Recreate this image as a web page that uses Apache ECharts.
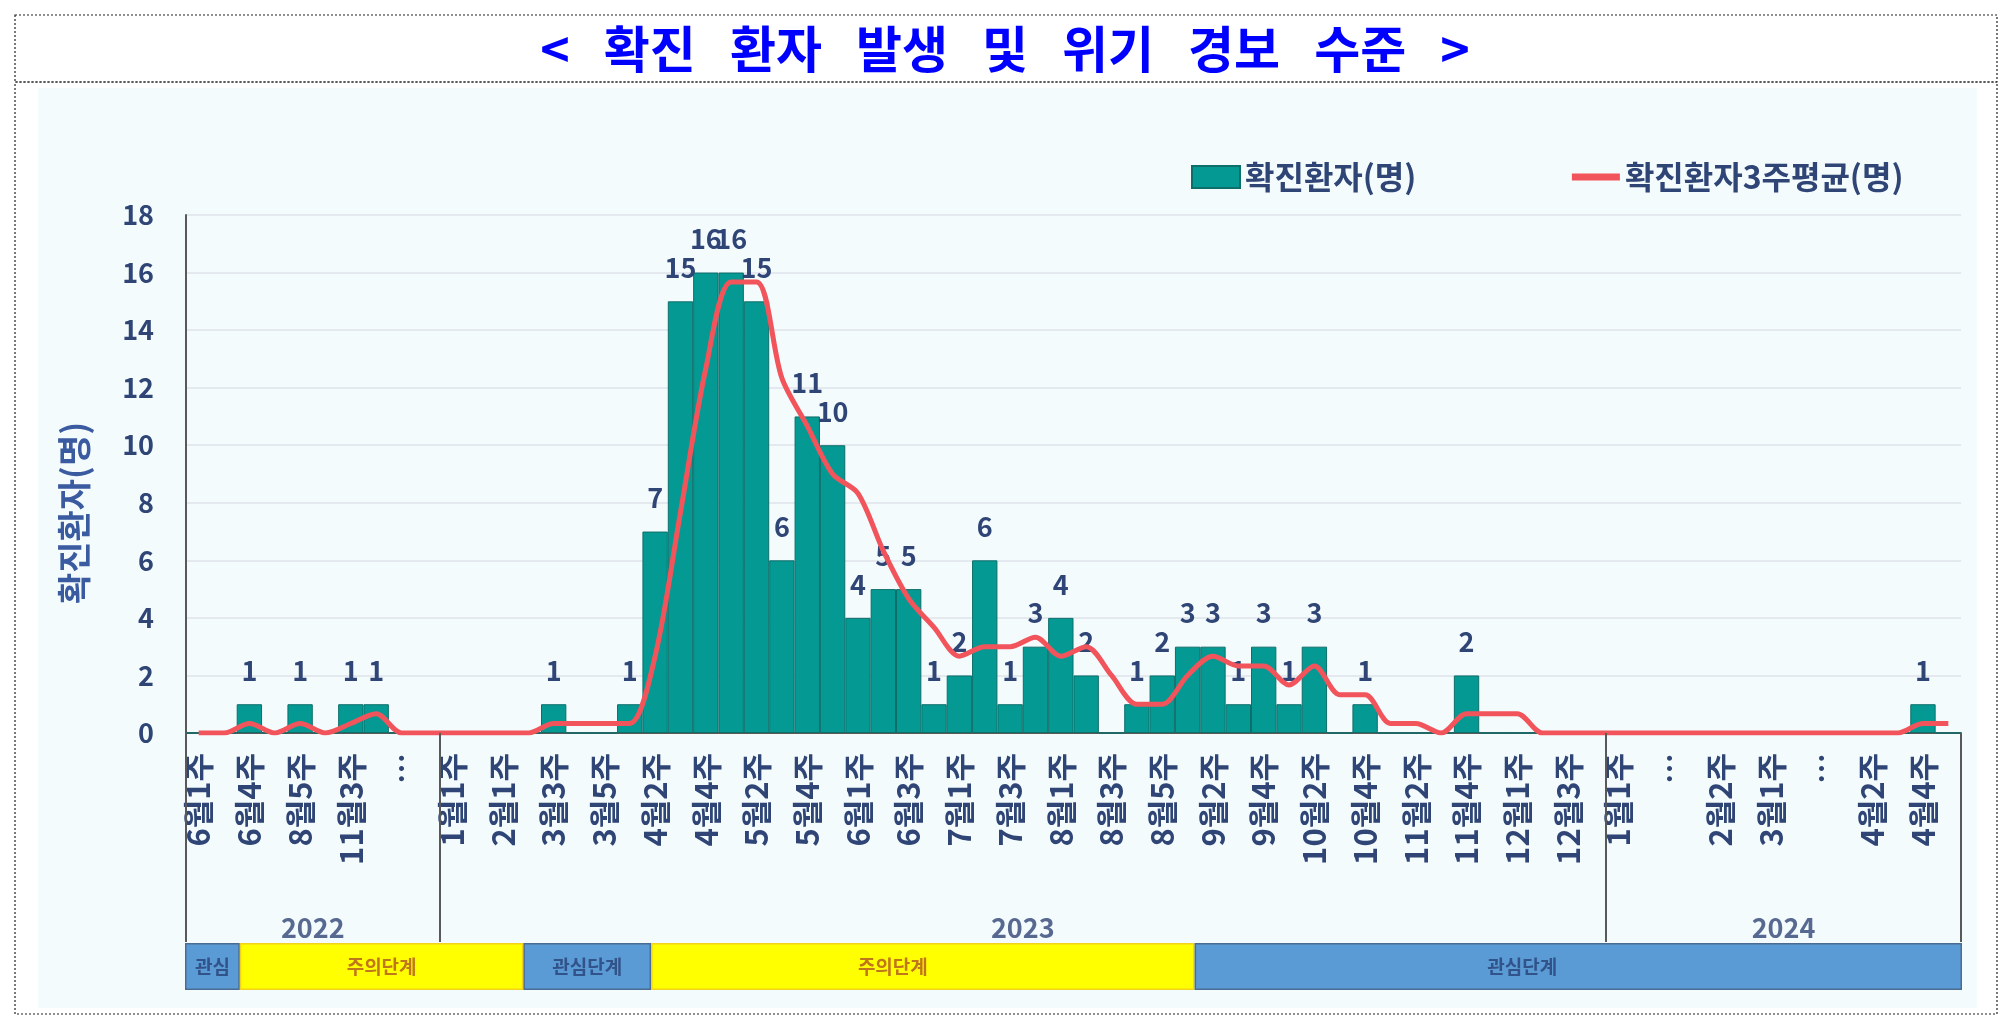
<!DOCTYPE html>
<html>
<head>
<meta charset="utf-8">
<script src="https://cdn.jsdelivr.net/npm/echarts@6/dist/echarts.min.js"></script>
<style>
  html, body { margin: 0; padding: 0; background: #fff; }
  #chart { width: 2012px; height: 1031px; }
</style>
</head>
<body>
<div id="chart"></div>
<script>
// 주차 라벨 (빈 칸은 라벨 없는 주)
var weekLabels = [
  '6월1주', '', '6월4주', '', '8월5주', '', '11월3주', '', '…', '',
  '1월1주', '', '2월1주', '', '3월3주', '', '3월5주', '', '4월2주', '', '4월4주', '',
  '5월2주', '', '5월4주', '', '6월1주', '', '6월3주', '', '7월1주', '', '7월3주', '',
  '8월1주', '', '8월3주', '', '8월5주', '', '9월2주', '', '9월4주', '', '10월2주', '',
  '10월4주', '', '11월2주', '', '11월4주', '', '12월1주', '', '12월3주', '',
  '1월1주', '', '…', '', '2월2주', '', '3월1주', '', '…', '', '4월2주', '', '4월4주', ''
];
// 확진환자(명)
var cases = [
  0, 0, 1, 0, 1, 0, 1, 1, 0, 0,
  0, 0, 0, 0, 1, 0, 0, 1, 7, 15, 16, 16, 15, 6, 11, 10, 4, 5, 5, 1, 2, 6, 1, 3, 4, 2,
  0, 1, 2, 3, 3, 1, 3, 1, 3, 0, 1, 0, 0, 0, 2, 0, 0, 0, 0, 0,
  0, 0, 0, 0, 0, 0, 0, 0, 0, 0, 0, 0, 1, 0
];
// 확진환자3주평균(명)
var avg3 = [
  0, 0, 0.33, 0, 0.33, 0, 0.33, 0.67, 0, 0,
  0, 0, 0, 0, 0.33, 0.33, 0.33, 0.33, 2.67, 7.67, 12.67, 15.67, 15.67, 12.33, 10.67, 9,
  8.33, 6.33, 4.67, 3.67, 2.67, 3, 3, 3.33, 2.67, 3, 2, 1, 1, 2, 2.67, 2.33, 2.33, 1.67,
  2.33, 1.33, 1.33, 0.33, 0.33, 0, 0.67, 0.67, 0.67, 0, 0, 0,
  0, 0, 0, 0, 0, 0, 0, 0, 0, 0, 0, 0, 0.33, 0.33
];
// 연도 구간 (주 인덱스)
var years = ['2022', '2023', '2024'];
var yearStart = [0, 10, 56];
var yearEnd = [10, 56, 70];
// 위기 경보 단계 (주 단위 폭)
var levelNames = ['관심', '주의단계', '관심단계', '주의단계', '관심단계'];
var levelSpans = [2.16, 11.17, 5.03, 21.41, 30.23];
var levelLabelShift = [0, 0, 0, -30, -56];

var FONT = "'Noto Sans CJK KR', 'Noto Sans', sans-serif";
var NAVY = '#2F4576';

var chart = echarts.init(document.getElementById('chart'));

var categories = weekLabels.map(function (l, i) { return 'w' + i; });

var levelSeries = levelNames.map(function (name, i) {
  var caution = name.indexOf('주의') === 0;
  return {
    type: 'bar',
    name: 'lv' + i,
    xAxisIndex: 2,
    yAxisIndex: 2,
    stack: 'level',
    barWidth: '100%',
    silent: true,
    data: [levelSpans[i]],
    itemStyle: {
      color: caution ? '#FFFF00' : '#5B9BD5',
      borderColor: caution ? '#F2D21B' : '#4A6C92',
      borderWidth: 1.5
    },
    label: {
      show: true,
      position: 'inside',
      offset: [levelLabelShift[i], 0],
      formatter: name,
      fontFamily: FONT,
      fontSize: 19,
      fontWeight: 'bold',
      color: caution ? '#C0761A' : '#31538A'
    }
  };
});

chart.setOption({
  backgroundColor: '#ffffff',
  textStyle: { fontFamily: FONT },
  animation: false,
  graphic: [
    { type: 'rect', shape: { x: 38, y: 88, width: 1939, height: 920 }, style: { fill: '#F4FBFD' }, z: -10 },
    { type: 'rect', shape: { x: 15, y: 15, width: 1982, height: 67 },
      style: { fill: 'none', stroke: '#222', lineWidth: 1.2, lineDash: [2, 2] }, z: -5 },
    { type: 'rect', shape: { x: 15, y: 82, width: 1982, height: 932 },
      style: { fill: 'none', stroke: '#222', lineWidth: 1.2, lineDash: [2, 2] }, z: -5 },
    { type: 'text', x: 1005, y: 49,
      style: { text: '<   확진   환자   발생   및   위기   경보   수준   >',
        fill: '#0000FF', font: 'bold 50px ' + FONT, textAlign: 'center', textVerticalAlign: 'middle' } }
  ],
  legend: {
    left: 1186,
    top: 156,
    itemWidth: 48,
    itemHeight: 22,
    itemGap: 152,
    textStyle: { fontSize: 32, fontWeight: 'bold', color: NAVY, fontFamily: FONT },
    data: [
      { name: '확진환자(명)', icon: 'rect' },
      { name: '확진환자3주평균(명)', itemStyle: { opacity: 0 }, lineStyle: { width: 7 } }
    ]
  },
  grid: [
    { left: 186, top: 215, width: 1775, height: 518 },
    { left: 186, top: 733, width: 1775, height: 209 },
    { left: 185, top: 943, width: 1777, height: 47 }
  ],
  xAxis: [
    {
      type: 'category',
      gridIndex: 0,
      data: categories,
      axisTick: { show: false },
      axisLine: { lineStyle: { color: '#595959', width: 2 } },
      axisLabel: {
        interval: 0,
        rotate: 90,
        margin: 20,
        fontSize: 31,
        fontWeight: 'bold',
        color: NAVY,
        formatter: function (v, i) { return weekLabels[i]; }
      }
    },
    { type: 'value', gridIndex: 1, min: 0, max: 70, show: false },
    { type: 'value', gridIndex: 2, min: 0, max: 70, show: false }
  ],
  yAxis: [
    {
      type: 'value',
      gridIndex: 0,
      min: 0,
      max: 18,
      interval: 2,
      name: '확진환자(명)',
      nameLocation: 'middle',
      nameGap: 95,
      nameTextStyle: { fontSize: 34, fontWeight: 'bold', color: '#3A5BA0', padding: [0, 78, 0, 0] },
      axisLine: { show: true, lineStyle: { color: '#595959', width: 2 } },
      axisTick: { show: false },
      axisLabel: { fontSize: 27, fontWeight: 'bold', color: NAVY, margin: 32 },
      splitLine: { lineStyle: { color: '#E3E9EE', width: 2 } }
    },
    { type: 'value', gridIndex: 1, min: 0, max: 1, show: false },
    { type: 'category', gridIndex: 2, data: ['level'], show: false }
  ],
  series: [
    {
      name: '확진환자(명)',
      type: 'bar',
      xAxisIndex: 0,
      yAxisIndex: 0,
      data: cases,
      barCategoryGap: 0,
      itemStyle: { color: '#049A93', borderColor: '#0D6E6A', borderWidth: 1 },
      label: {
        show: true,
        position: 'top',
        distance: 20,
        fontSize: 27,
        fontWeight: 'bold',
        color: NAVY,
        formatter: function (p) { return p.value > 0 ? p.value : ''; }
      }
    },
    {
      name: '확진환자3주평균(명)',
      type: 'line',
      xAxisIndex: 0,
      yAxisIndex: 0,
      data: avg3,
      smooth: 0.3,
      symbol: 'none',
      z: 3,
      lineStyle: { color: '#F2545B', width: 5 },
      itemStyle: { color: '#F2545B' }
    },
    {
      type: 'scatter',
      xAxisIndex: 1,
      yAxisIndex: 1,
      symbolSize: 0,
      silent: true,
      data: years.map(function (y, i) { return [(yearStart[i] + yearEnd[i]) / 2, 0.07, y]; }),
      label: {
        show: true,
        position: 'inside',
        fontSize: 27,
        fontWeight: 'bold',
        color: NAVY,
        formatter: function (p) { return p.data[2]; }
      },
      markLine: {
        silent: true,
        symbol: 'none',
        label: { show: false },
        lineStyle: { color: '#595959', width: 2, type: 'solid' },
        data: [0].concat(yearEnd).map(function (x) { return { xAxis: x }; })
      }
    }
  ].concat(levelSeries)
});
</script>
</body>
</html>
